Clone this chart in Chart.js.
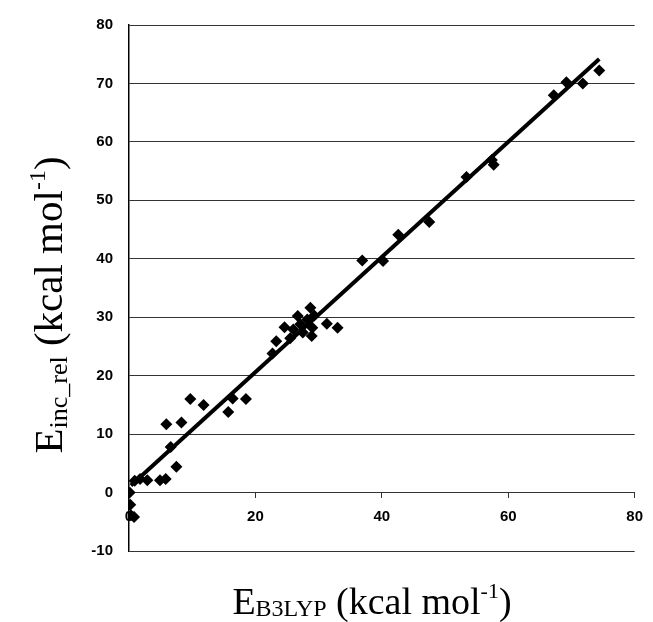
<!DOCTYPE html>
<html><head><meta charset="utf-8">
<script src="https://cdn.jsdelivr.net/npm/chart.js@4/dist/chart.umd.min.js"></script>
<style>html,body{margin:0;padding:0;background:#fff}#wrap{width:653px;height:622px}</style>
</head><body><div id="wrap"><canvas id="c" width="653" height="622"></canvas></div>
<script>
// E_B3LYP (x) vs E_inc_rel (y), kcal/mol
const xVals = [0.1, 0.2, 0.3, 0.8, 0.9, 1.75, 2.9, 4.9, 5.8, 7.5, 6.6, 5.9, 8.3, 9.7, 11.8, 15.7, 16.4, 18.5,
  22.7, 23.3, 24.6, 25.5, 26.0, 26.7, 27.1, 27.5, 28.2, 28.7, 28.9, 29.3, 29.0, 31.3, 33.0,
  36.9, 40.2, 42.6, 47.5, 53.4, 57.4, 57.7, 67.2, 69.2, 71.8, 74.4];
const yVals = [0.0, -2.1, -3.9, -4.2, 2.0, 2.3, 2.1, 2.1, 2.3, 4.4, 7.8, 11.7, 12.0, 16.0, 15.0, 13.8, 16.1, 16.0,
  23.8, 25.9, 28.3, 26.4, 27.9, 30.2, 28.8, 27.4, 29.6, 31.6, 26.8, 30.3, 28.2, 28.9, 28.2,
  39.7, 39.6, 44.1, 46.3, 54.0, 56.9, 56.1, 68.0, 70.2, 70.0, 72.2];
// linear fit line end points
const fitX = [0.3, 74.4];
const fitY = [1.2, 74.2];
const xTicks = [0, 20, 40, 60, 80];
const yTicks = [-10, 0, 10, 20, 30, 40, 50, 60, 70, 80];

const pts = xVals.map((x, i) => ({x: x, y: yVals[i]}));
const fit = fitX.map((x, i) => ({x: x, y: fitY[i]}));

function drawRich(ctx, segs, cx, base) {
  let total = 0;
  segs.forEach(s => { ctx.font = s.size + 'px "Liberation Serif", "Times New Roman", serif'; s.w = ctx.measureText(s.t).width; total += s.w; });
  let x = cx - total / 2;
  ctx.textAlign = 'left';
  ctx.textBaseline = 'alphabetic';
  ctx.fillStyle = '#000';
  segs.forEach(s => { ctx.font = s.size + 'px "Liberation Serif", "Times New Roman", serif'; ctx.fillText(s.t, x, base + s.dy); x += s.w; });
}

const titles = {
  id: 'titles',
  afterDraw(chart) {
    const ctx = chart.ctx;
    ctx.save();
    drawRich(ctx, [
      {t: 'E', size: 38, dy: 0},
      {t: 'B3LYP', size: 24, dy: 2},
      {t: ' (kcal mol', size: 38, dy: 0},
      {t: '-1', size: 22, dy: -16},
      {t: ')', size: 38, dy: 0}
    ], 372, 614);
    ctx.restore();
    ctx.save();
    ctx.translate(62, 305);
    ctx.rotate(-Math.PI / 2);
    drawRich(ctx, [
      {t: 'E', size: 41, dy: 0},
      {t: 'inc_rel', size: 26, dy: 5},
      {t: ' (kcal mol', size: 41, dy: 0},
      {t: '-1', size: 24, dy: -17},
      {t: ')', size: 41, dy: 0}
    ], 0, 0);
    ctx.restore();
  }
};

const tickFont = {family: '"Liberation Sans", Arial, sans-serif', size: 15, weight: 'bold'};

new Chart(document.getElementById('c'), {
  type: 'scatter',
  data: {
    datasets: [
      {
        data: pts,
        pointStyle: 'rectRot',
        pointRadius: 6,
        pointHoverRadius: 6,
        backgroundColor: '#000',
        borderColor: '#000',
        borderWidth: 0,
        order: 2
      },
      {
        data: fit,
        showLine: true,
        pointRadius: 0,
        borderColor: '#000',
        borderWidth: 4,
        order: 1
      }
    ]
  },
  options: {
    responsive: false,
    animation: false,
    events: [],
    layout: {padding: {left: 0, top: 21, right: 11, bottom: 71}},
    plugins: {legend: {display: false}, tooltip: {enabled: false}},
    scales: {
      x: {
        type: 'linear',
        position: {y: 0},
        min: 0, max: 80,
        afterBuildTicks: s => { s.ticks = xTicks.map(v => ({value: v})); },
        afterFit: s => { s.height = 0; },
        ticks: {font: tickFont, color: '#000', padding: 10, maxRotation: 0},
        grid: {display: true, drawOnChartArea: false, drawTicks: true, tickLength: 5, color: '#333'},
        border: {display: true, color: '#333', width: 1}
      },
      y: {
        type: 'linear',
        position: 'left',
        min: -10, max: 80,
        afterBuildTicks: s => { s.ticks = yTicks.map(v => ({value: v})); },
        afterFit: s => { s.width = 129; },
        ticks: {font: tickFont, color: '#000', padding: 16},
        grid: {display: true, drawTicks: false, color: '#333', lineWidth: 1},
        border: {display: true, color: '#000', width: 1.5}
      }
    }
  },
  plugins: [titles]
});
</script>
</body></html>
